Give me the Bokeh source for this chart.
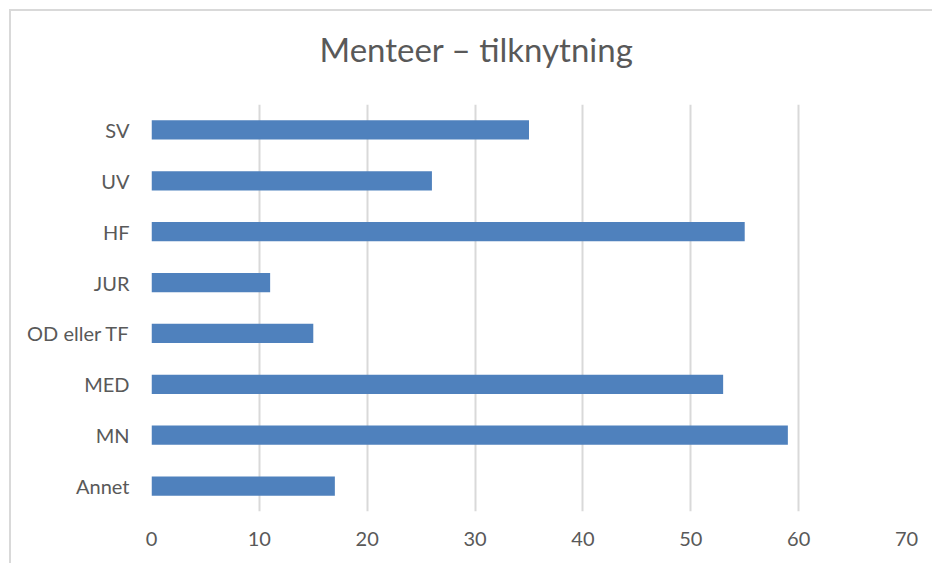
from bokeh.plotting import figure
from bokeh.models import Range1d, FactorRange, FixedTicker
from bokeh.embed import file_html
from bokeh.resources import INLINE

categories = ["SV", "UV", "HF", "JUR", "OD eller TF", "MED", "MN", "Annet"]
values = [35, 26, 55, 11, 15, 53, 59, 17]
x_ticks = [0, 10, 20, 30, 40, 50, 60, 70]
title_text = "Menteer \u2013 tilknytning"

FONT = "Lato"
TEXT_COLOR = "#595959"

p = figure(
    width=923, height=554,
    y_range=FactorRange(factors=list(reversed(categories))),
    x_range=Range1d(0, 70),
    output_backend="svg", toolbar_location=None,
    min_border_left=140, min_border_right=28,
    min_border_top=93, min_border_bottom=54,
)
p.styles = {"margin-left": "9px", "margin-top": "9px",
            "border-left": "2px solid #d9d9d9", "border-top": "2px solid #d9d9d9"}

p.title.text = title_text
p.title.align = "left"
p.title.offset = 168
p.title.vertical_align = "bottom"
p.title.padding = dict(left=0, right=0, top=0, bottom=36)
p.title.text_font = FONT
p.title.text_font_size = "33px"
p.title.text_font_style = "normal"
p.title.text_color = TEXT_COLOR
p.title.standoff = 0

p.hbar(y=categories, right=values, left=0, height=0.38,
       fill_color="#4F81BD", line_color=None)

p.outline_line_color = None
p.ygrid.grid_line_color = None
p.xgrid.grid_line_color = "#d9d9d9"
p.xgrid.grid_line_width = 2
p.xaxis.ticker = FixedTicker(ticks=x_ticks)

for ax in (p.xaxis[0], p.yaxis[0]):
    ax.axis_line_color = None
    ax.major_tick_line_color = None
    ax.minor_tick_line_color = None
    ax.major_tick_out = 0
    ax.major_tick_in = 0
    ax.major_label_text_font = FONT
    ax.major_label_text_font_size = "20px"
    ax.major_label_text_color = TEXT_COLOR

p.xaxis.major_label_standoff = 20
p.yaxis.major_label_standoff = 22

open("out.html", "w").write(file_html(p, INLINE))
